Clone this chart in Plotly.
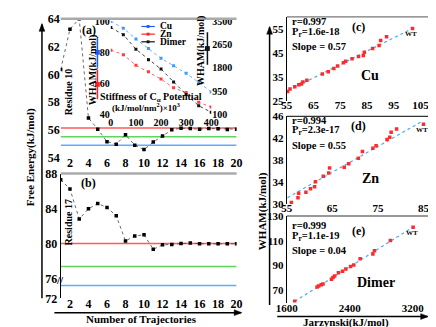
import plotly.graph_objects as go

W, H = 436, 327

# panels (a) and (b): free energy against number of trajectories
trajectories = list(range(1, 21))
residue10 = [60.35, 63.25, 64.0, 56.85, 56.05, 55.15, 54.97, 55.64, 54.9, 54.58,
             55.12, 55.55, 56.0, 56.12, 56.1, 56.05, 56.1, 56.08, 56.02, 56.05]
residue17 = [87.3, 86.25, 82.85, 84.0, 84.6, 84.15, 83.2, 80.35, 80.9, 81.05,
             79.4, 79.9, 79.95, 80.05, 80.12, 80.02, 80.02, 80.02, 80.02, 80.02]
res10_refs = [56.13, 55.5, 54.9]
res17_refs = [80.05, 77.45, 74.7]
ref_colors = ['#ff5a5a', '#5ed65e', '#5aaeff']

# inset of (a): WHAM vs stiffness of C-alpha potential
stiffness = [0, 50, 100, 150, 200, 250, 300, 350, 400]
cu_stiff = [100.0, 95.5, 88.6, 82.5, 76.2, 71.4, 66.5, 60.7, 54.5]
zn_stiff = [81.4, 78.5, 71.7, 67.5, 62.8, 57.2, 54.1, 47.9, 44.8]
dimer_stiff = [3270, 3010, 2480, 2100, 1755, 1290, 830, 420, 185]

# panels (c)-(e): WHAM vs Jarzynski
cu_jar = [55.3, 56.2, 58.0, 59.5, 60.5, 61.0, 62.5, 68.3, 70.5, 72.6, 74.0,
          76.2, 77.0, 79.4, 81.8, 83.6, 84.0, 87.1, 89.5, 90.1, 92.3, 102.0]
cu_wham = [29.0, 30.1, 31.0, 31.8, 32.2, 33.0, 33.7, 36.3, 37.3, 38.6, 39.7,
           41.0, 41.7, 42.7, 43.7, 44.1, 45.4, 47.0, 48.3, 50.3, 51.9, 55.4]
cu_fit_x = [55.3, 102.6]
cu_fit_y = [29.3, 55.7]

zn_jar = [56.0, 57.45, 57.6, 59.2, 60.2, 61.1, 61.3, 63.0, 64.2, 64.4, 67.6,
          68.6, 70.7, 71.6, 73.9, 74.6, 77.0, 77.6, 77.9, 79.1, 85.0]
zn_wham = [30.3, 31.2, 32.0, 32.2, 32.8, 33.2, 34.1, 35.1, 35.7, 36.6, 36.75,
           37.4, 38.4, 39.6, 40.2, 40.65, 41.8, 42.2, 43.1, 43.7, 44.6]
zn_fit_x = [55.15, 84.7]
zn_fit_y = [31.2, 45.1]

dimer_jar = [1701, 1985, 2005, 2037, 2060, 2167, 2187, 2208, 2256, 2308, 2350,
             2410, 2451, 2532, 2694, 2714, 2916, 3205]
dimer_wham = [61.0, 72.5, 73.3, 74.3, 75.0, 78.9, 80.2, 81.5, 84.0, 85.3, 87.1,
              89.2, 90.4, 95.5, 99.3, 101.9, 110.1, 121.0]
dimer_fit_x = [1701, 3215]
dimer_fit_y = [61.0, 121.5]

stats = [('r=0.997', 'P<sub>r</sub>=1.6e-18', 'Slope = 0.57', '(c)', 'Cu'),
         ('r=0.994', 'P<sub>r</sub>=2.3e-17', 'Slope = 0.55', '(d)', 'Zn'),
         ('r=0.999', 'P<sub>r</sub>=1.1e-19', 'Slope = 0.04', '(e)', 'Dimer')]

FONT = 'Liberation Serif'


def fx(x):
    return x / W


def fy(y):
    return 1 - y / H


def tf(size):
    return dict(family=FONT, size=size, color='black', weight='bold')


fig = go.Figure()

# reference lines
for v, c in zip(res10_refs, ref_colors):
    fig.add_trace(go.Scatter(x=[trajectories[0], trajectories[-1]], y=[v, v], mode='lines',
                             line=dict(color=c, width=1.5), xaxis='x', yaxis='y'))
for v, c in zip(res17_refs, ref_colors):
    fig.add_trace(go.Scatter(x=[trajectories[0], trajectories[-1]], y=[v, v], mode='lines',
                             line=dict(color=c, width=1.5), xaxis='x2',
                             yaxis='y2' if v >= 76 else 'y3'))

fig.add_trace(go.Scatter(x=trajectories, y=residue10, mode='lines+markers',
                         line=dict(color='#444', width=0.8, dash='dot'),
                         marker=dict(symbol='square', size=3.5, color='black'),
                         xaxis='x', yaxis='y'))
fig.add_trace(go.Scatter(x=trajectories, y=residue17, mode='lines+markers',
                         line=dict(color='#444', width=0.8, dash='dot'),
                         marker=dict(symbol='square', size=3.5, color='black'),
                         xaxis='x2', yaxis='y2'))

# inset
inset = [(cu_stiff, '#3d9bff', 'y4'), (zn_stiff, '#ff3b3b', 'y4'), (dimer_stiff, '#111', 'y5')]
for vals, c, ya in inset:
    fig.add_trace(go.Scatter(x=stiffness, y=vals, mode='lines+markers',
                             line=dict(color=c, width=0.8, dash='dot'),
                             marker=dict(symbol='square', size=3, color=c),
                             xaxis='x3', yaxis=ya))

# right panels
right = [(cu_jar, cu_wham, cu_fit_x, cu_fit_y, 'x4', 'y6'),
         (zn_jar, zn_wham, zn_fit_x, zn_fit_y, 'x5', 'y7'),
         (dimer_jar, dimer_wham, dimer_fit_x, dimer_fit_y, 'x6', 'y8')]
for jx, wy, fitx, fity, xa, ya in right:
    fig.add_trace(go.Scatter(x=fitx, y=fity, mode='lines',
                             line=dict(color='#4da6ff', width=1.2, dash='dot'),
                             xaxis=xa, yaxis=ya))
    fig.add_trace(go.Scatter(x=jx, y=wy, mode='markers',
                             marker=dict(symbol='square', size=3.5, color='#ff2a2a'),
                             xaxis=xa, yaxis=ya))


def ax(domain, rng, tickvals, size=12, **kw):
    d = dict(domain=domain, range=rng, tickvals=tickvals, showgrid=False, zeroline=False,
             showline=False, ticks='', tickfont=tf(size))
    d.update(kw)
    return d


xa_dom = [fx(43.6), fx(227.5)]
even = list(range(2, 21, 2))
layout = dict(
    width=W, height=H, margin=dict(l=0, r=0, t=0, b=0),
    paper_bgcolor='white', plot_bgcolor='rgba(0,0,0,0)', showlegend=False,
    font=dict(family=FONT, size=12, color='black', weight='bold'),
    xaxis=ax(xa_dom, [1, 20], even, anchor='y', ticklabelstandoff=-4),
    yaxis=ax([fy(149), fy(4)], [54, 64], [54, 56, 58, 60, 62, 64], anchor='x'),
    xaxis2=ax(xa_dom, [1, 20], even, anchor='y3', ticklabelstandoff=-3),
    yaxis2=ax([fy(276), fy(165.7)], [76, 88], [80, 84, 88], anchor='x2',
              showline=True, linecolor='black', linewidth=1),
    yaxis3=ax([fy(296), fy(276)], [72, 76], [72, 76], anchor='x2',
              showline=True, linecolor='black', linewidth=1),
    xaxis3=ax([fx(96), fx(201)], [0, 400], [0, 100, 200, 300, 400], size=10,
              anchor='y4', ticklabelstandoff=0),
    yaxis4=ax([fy(104), fy(6.5)], [40, 100], [40, 60, 80, 100], size=10, anchor='x3'),
    yaxis5=ax([fy(104), fy(6.5)], [100, 3500], [100, 950, 1800, 2650, 3500], size=10,
              anchor='x3', overlaying='y4', side='right'),
    xaxis4=ax([fx(280), fx(431)], [55, 109], [55, 65, 75, 85, 95, 105], size=11,
              anchor='y6', ticklabelstandoff=-4),
    yaxis6=ax([fy(90), fy(2)], [25, 60.2], [25, 35, 45, 55], size=11, anchor='x4',
              showline=True, linecolor='black', linewidth=1),
    xaxis5=ax([fx(280), fx(431)], [55, 86.7], [55, 65, 75, 85], size=11,
              anchor='y7', ticklabelstandoff=-4),
    yaxis7=ax([fy(197.7), fy(106)], [30, 46], [30, 34, 38, 42, 46], size=11, anchor='x5',
              showline=True, linecolor='black', linewidth=1),
    xaxis6=ax([fx(280), fx(431)], [1600, 3435], [1600, 2400, 3200], size=11,
              anchor='y8', ticklabelstandoff=-3),
    yaxis8=ax([fy(300.4), fy(210)], [60, 130], [70, 90, 110, 130], size=11, anchor='x6',
              showline=True, linecolor='black', linewidth=1),
)
fig.update_layout(**layout)

shapes = []
# top frame lines
for xr, yr, col, w in [('x', 'y', '#aaa', 2.5), ('x2', 'y2', '#aaa', 2.5),
                       ('x4', 'y6', '#777', 1.2), ('x5', 'y7', '#333', 1.2), ('x6', 'y8', '#333', 1.2)]:
    shapes.append(dict(type='line', xref=xr + ' domain', yref=yr + ' domain', x0=0, x1=1, y0=1, y1=1,
                       line=dict(color=col, width=w)))

# inset legend
legend_items = [('Cu', '#1f5bff', 12), ('Zn', '#ff2020', 20), ('Dimer', '#111', 28)]
annotations = []
for name, c, yy in legend_items:
    shapes.append(dict(type='line', xref='paper', yref='paper', x0=fx(128), x1=fx(142),
                       y0=fy(yy), y1=fy(yy), line=dict(color=c, width=1.2)))
    shapes.append(dict(type='rect', xref='paper', yref='paper', x0=fx(133.5), x1=fx(136.5),
                       y0=fy(yy + 1.5), y1=fy(yy - 1.5), fillcolor=c, line=dict(width=0)))
    annotations.append(dict(text=name, x=fx(145), y=fy(yy), xref='paper', yref='paper',
                            xanchor='left', yanchor='middle', showarrow=False, font=tf(9.5)))

# series markers beside inset axis titles
for xx, y0, y1, c in [(82, 23, 55, '#1f5bff'), (82, 57, 88, '#ff2020'), (197, 18, 52, '#111')]:
    shapes.append(dict(type='line', xref='paper', yref='paper', x0=fx(xx), x1=fx(xx),
                       y0=fy(y0), y1=fy(y1), line=dict(color=c, width=1.5)))
    ym = (y0 + y1) / 2
    shapes.append(dict(type='rect', xref='paper', yref='paper', x0=fx(xx - 2.5), x1=fx(xx + 2.5),
                       y0=fy(ym + 2.5), y1=fy(ym - 2.5), fillcolor=c, line=dict(width=0)))


def note(text, x, y, size=11, angle=0, xanchor='center'):
    annotations.append(dict(text=text, x=fx(x), y=fy(y), xref='paper', yref='paper',
                            xanchor=xanchor, yanchor='middle', showarrow=False,
                            textangle=angle, font=tf(size)))


note('(a)', 73, 16, 12)
note('(b)', 73, 175, 12)
note('Residue 10', 52, 81, 10, -90)
note('Residue 17', 52, 217, 10, -90)
note('//', 43, 277, 11)
note('Stiffness of C<sub>α</sub> Potential', 138, 86, 10)
note('(kJ/mol/nm<sup>2</sup>)×10<sup>3</sup>', 133, 96.5, 9)
note('WHAM(kJ/mol)', 77, 57, 10, -90)
note('WHAM(kJ/mol)', 191, 37, 10, -90)
note('Free Energy(kJ/mol)', 12, 148, 11, -90)
note('Number of Trajectories', 128, 318, 11)
note('WHAM(kJ/mol)', 254, 205, 11, -90)
note('Jarzynski(kJ/mol)', 342, 321, 11)

# stats text of right panels
for (r, p, s, lab, name), top, nx, ny in zip(stats, [7, 110, 220], [367, 367, 373], [63, 171, 279]):
    note(r, 283, top, 10.5, xanchor='left')
    note(p, 283, top + 11, 10.5, xanchor='left')
    note(s, 283, top + 26, 10.5, xanchor='left')
    note(lab, 355, top + 6, 12)
    note(name, nx, ny, 14)

# WT labels next to the wild-type point
for xs, ys, xa, ya in [(cu_jar, cu_wham, 'x4', 'y6'), (zn_jar, zn_wham, 'x5', 'y7'),
                       (dimer_jar, dimer_wham, 'x6', 'y8')]:
    annotations.append(dict(text='WT', x=xs[-1], y=ys[-1], xref=xa, yref=ya, showarrow=False,
                            yshift=-6, xshift=-1, font=tf(7)))

# axis arrows: shaft lines plus triangular heads (pixel coords)
arrows = [((24, 296), (24, 10)), ((37, 311), (232, 311)),
          ((262, 303), (262, 13)), ((270, 315), (427, 315))]
for (x0, y0), (x1, y1) in arrows:
    shapes.append(dict(type='line', xref='paper', yref='paper', x0=fx(x0), y0=fy(y0),
                       x1=fx(x1), y1=fy(y1), line=dict(color='black', width=1.5)))
    if x0 == x1:
        pts = [(x1, y1 - 1), (x1 - 3, y1 + 7), (x1 + 3, y1 + 7)]
    else:
        pts = [(x1 + 1, y1), (x1 - 7, y1 - 3), (x1 - 7, y1 + 3)]
    path = 'M ' + ' L '.join('%f,%f' % (fx(a), fy(b)) for a, b in pts) + ' Z'
    shapes.append(dict(type='path', xref='paper', yref='paper', path=path,
                       fillcolor='black', line=dict(color='black', width=0.5)))

fig.update_layout(shapes=shapes, annotations=annotations)
fig.write_html('out.html')
